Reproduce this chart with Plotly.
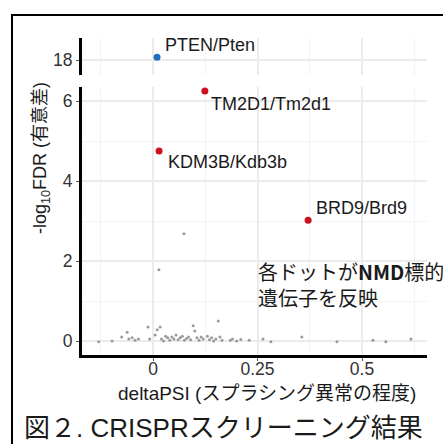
import plotly.graph_objects as go

# ---------------- data ----------------
gray_x = [-0.13, -0.098, -0.075, -0.062, -0.058, -0.05, -0.043, -0.035, -0.012, -0.008,
          0.005, 0.01, 0.017, 0.02, 0.025, 0.03, 0.035, 0.04, 0.045, 0.05,
          0.055, 0.06, 0.065, 0.07, 0.075, 0.08, 0.085, 0.09, 0.096, 0.1,
          0.105, 0.11, 0.115, 0.12, 0.13, 0.135, 0.14, 0.145, 0.156, 0.15,
          0.16, 0.165, 0.185, 0.19, 0.2, 0.21, 0.23, 0.263, 0.282, 0.356,
          0.44, 0.526, 0.557, 0.617, 0.074, 0.014]
gray_y = [-0.02, 0.0, 0.1, 0.22, 0.05, 0.08, 0.02, 0.05, 0.35, 0.05,
          0.15, 0.28, 0.35, 0.05, 0.0, 0.12, 0.08, 0.02, 0.1, 0.05,
          0.15, 0.03, 0.08, 0.12, 0.02, 0.06, 0.1, 0.03, 0.38, 0.25,
          0.08, 0.02, 0.1, 0.05, 0.12, 0.03, 0.08, 0.0, 0.5, 0.05,
          0.1, 0.02, 0.02, 0.05, 0.0, 0.04, 0.02, 0.05, -0.02, 0.1,
          -0.02, 0.02, -0.02, 0.05, 2.68, 1.78]

hit_genes = ["TM2D1/Tm2d1", "KDM3B/Kdb3b", "BRD9/Brd9"]
hit_x = [0.124, 0.0144, 0.371]
hit_y = [6.25, 4.75, 3.02]

top_gene = ["PTEN/Pten"]
top_x = [0.0096]
top_y = [18.07]

x_ticks = [0, 0.25, 0.5]
x_ticktext = ["0", "0.25", "0.5"]
y_ticks = [0, 2, 4, 6]
y2_ticks = [18]

x_title = "deltaPSI (スプラシング異常の程度)"
y_title = "-log<sub>10</sub>FDR (有意差)"
note_text = "各ドットが<b>NMD</b>標的<br>遺伝子を反映"
caption = "図２. CRISPRスクリーニング結果"

# ---------------- styles ----------------
FONT = "Liberation Sans, Arial, Helvetica, Noto Sans CJK JP, sans-serif"
CJK = "Noto Sans CJK JP, Liberation Sans, sans-serif"
label_shift = {"PTEN/Pten": (6, 12), "TM2D1/Tm2d1": (4, -13),
               "KDM3B/Kdb3b": (7, -11), "BRD9/Brd9": (6, 12)}

fig = go.Figure()
fig.add_trace(go.Scatter(x=gray_x, y=gray_y, mode="markers",
                         marker=dict(color="#9a9a9a", size=3), xaxis="x", yaxis="y",
                         hoverinfo="skip"))
fig.add_trace(go.Scatter(x=hit_x, y=hit_y, mode="markers",
                         marker=dict(color="#cc1020", size=7), xaxis="x", yaxis="y"))
fig.add_trace(go.Scatter(x=top_x, y=top_y, mode="markers",
                         marker=dict(color="#1e6fc0", size=7), xaxis="x", yaxis="y2"))

anns = []
for g, xv, yv in zip(hit_genes, hit_x, hit_y):
    dx, dy = label_shift[g]
    anns.append(dict(x=xv, y=yv, xref="x", yref="y", text=g, showarrow=False,
                     xanchor="left", yanchor="middle", xshift=dx, yshift=dy,
                     font=dict(family=FONT, size=18, color="#1a1a1a")))
for g, xv, yv in zip(top_gene, top_x, top_y):
    dx, dy = label_shift[g]
    anns.append(dict(x=xv, y=yv, xref="x", yref="y2", text=g, showarrow=False,
                     xanchor="left", yanchor="middle", xshift=dx, yshift=dy,
                     font=dict(family=FONT, size=18, color="#1a1a1a")))

# paper coordinate helpers (plot area: x 82..427 px, y 38..355 px)
def px(xp):
    return (xp - 82) / 345.0

def py(yp):
    return (355 - yp) / 317.0

anns.append(dict(x=px(267), y=py(394), xref="paper", yref="paper", text=x_title,
                 showarrow=False, xanchor="center", yanchor="middle",
                 font=dict(family=FONT, size=19, color="#1a1a1a")))
anns.append(dict(x=px(41), y=py(158), xref="paper", yref="paper", text=y_title,
                 showarrow=False, xanchor="center", yanchor="middle", textangle=-90,
                 font=dict(family=FONT, size=18, color="#1a1a1a")))
anns.append(dict(x=px(256), y=py(284), xref="paper", yref="paper", text=note_text,
                 showarrow=False, xanchor="left", yanchor="middle", align="left",
                 font=dict(family=CJK, size=20, color="#1a1a1a")))
anns.append(dict(x=px(22), y=py(428), xref="paper", yref="paper", text=caption,
                 showarrow=False, xanchor="left", yanchor="middle",
                 font=dict(family=FONT, size=26, color="#1a1a1a")))

grid_major = "#ebebeb"
grid_minor = "#f3f3f3"
tickfont = dict(size=17.5, color="#333")

fig.update_layout(
    width=443, height=444,
    margin=dict(l=82, r=16, t=38, b=89),
    plot_bgcolor="white", paper_bgcolor="white",
    showlegend=False,
    font=dict(family=FONT, size=17, color="#333333"),
    annotations=anns,
    shapes=[dict(type="rect", xref="paper", yref="paper",
                 x0=px(12), x1=px(470), y0=py(470), y1=py(15),
                 line=dict(color="black", width=2), fillcolor="rgba(0,0,0,0)")],
    xaxis=dict(range=[-0.17, 0.6555], tickvals=x_ticks, ticktext=x_ticktext,
               showgrid=True, gridcolor=grid_major, gridwidth=1.5,
               minor=dict(tickvals=[-0.125, 0.125, 0.375, 0.625], showgrid=True,
                          gridcolor=grid_minor, gridwidth=1, ticks=""),
               showline=True, linecolor="black", linewidth=3,
               ticks="outside", ticklen=3, tickcolor="#555", tickwidth=1,
               ticklabelstandoff=-7,
               zeroline=False, anchor="y", tickfont=tickfont),
    yaxis=dict(domain=[0, py(87)], range=[-0.35, 6.35], tickvals=y_ticks,
               showgrid=True, gridcolor=grid_major, gridwidth=1.5,
               minor=dict(tickvals=[1, 3, 5], showgrid=True,
                          gridcolor=grid_minor, gridwidth=1, ticks=""),
               showline=True, linecolor="black", linewidth=3,
               ticks="outside", ticklen=3, tickcolor="#555", tickwidth=1,
               zeroline=False, anchor="x", tickfont=tickfont),
    yaxis2=dict(domain=[py(75), 1], range=[17.625, 18.55], tickvals=y2_ticks,
                showgrid=True, gridcolor=grid_major, gridwidth=1.5,
                showline=True, linecolor="black", linewidth=3,
                ticks="outside", ticklen=3, tickcolor="#555", tickwidth=1,
                zeroline=False, anchor="x", tickfont=tickfont),
)

fig.write_html("out.html")
